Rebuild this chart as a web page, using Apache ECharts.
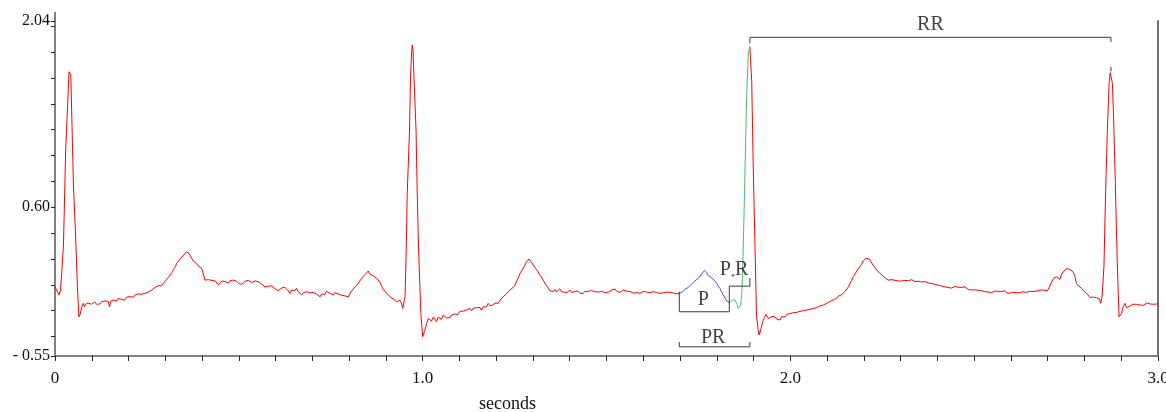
<!DOCTYPE html>
<html>
<head>
<meta charset="utf-8">
<title>ECG lead trace</title>
<script src="https://cdn.jsdelivr.net/npm/echarts@6/dist/echarts.min.js"></script>
<style>
  html, body { margin: 0; padding: 0; background: #fff; }
  #chart { width: 1166px; height: 412px; }
</style>
</head>
<body>
<div id="chart"></div>
<script>
// ECG samples: [time in seconds, amplitude in mV]
const ecgSamples = [
  [0.000,-0.015],[0.005,-0.030],[0.011,-0.079],[0.015,-0.040],[0.018,0.076],[0.023,0.308],[0.029,1.043],[0.035,1.429],
  [0.038,1.648],[0.041,1.660],[0.043,1.623],[0.050,0.787],[0.057,0.308],[0.061,-0.017],[0.065,-0.247],[0.068,-0.230],
  [0.071,-0.195],[0.074,-0.160],[0.077,-0.143],[0.080,-0.170],[0.083,-0.150],[0.086,-0.162],[0.090,-0.140],[0.095,-0.133],
  [0.099,-0.150],[0.104,-0.143],[0.108,-0.132],[0.113,-0.150],[0.118,-0.138],[0.122,-0.148],[0.127,-0.130],[0.132,-0.140],
  [0.136,-0.125],[0.141,-0.131],[0.145,-0.128],[0.148,-0.169],[0.152,-0.125],[0.156,-0.130],[0.159,-0.118],[0.164,-0.115],
  [0.168,-0.125],[0.172,-0.105],[0.177,-0.100],[0.181,-0.112],[0.186,-0.098],[0.190,-0.118],[0.195,-0.095],[0.199,-0.100],
  [0.204,-0.092],[0.209,-0.085],[0.213,-0.095],[0.218,-0.078],[0.222,-0.079],[0.227,-0.070],[0.231,-0.085],[0.236,-0.072],
  [0.240,-0.079],[0.245,-0.065],[0.249,-0.070],[0.254,-0.055],[0.258,-0.053],[0.263,-0.040],[0.268,-0.035],[0.272,-0.020],
  [0.277,-0.015],[0.281,-0.005],[0.286,0.002],[0.290,-0.008],[0.295,0.012],[0.300,0.030],[0.304,0.040],[0.309,0.060],
  [0.313,0.076],[0.318,0.095],[0.322,0.118],[0.327,0.140],[0.331,0.166],[0.336,0.175],[0.340,0.198],[0.343,0.185],
  [0.345,0.205],[0.350,0.230],[0.354,0.225],[0.357,0.255],[0.360,0.269],[0.364,0.245],[0.368,0.230],[0.372,0.205],
  [0.376,0.185],[0.380,0.170],[0.385,0.166],[0.389,0.148],[0.394,0.140],[0.399,0.128],[0.403,0.090],[0.408,0.037],
  [0.412,0.045],[0.417,0.040],[0.422,0.055],[0.427,0.035],[0.431,0.050],[0.436,0.030],[0.440,0.022],[0.445,0.000],
  [0.449,0.012],[0.454,0.030],[0.458,0.020],[0.463,0.025],[0.467,0.024],[0.472,0.015],[0.476,0.032],[0.481,0.018],
  [0.485,0.037],[0.490,0.025],[0.494,0.028],[0.499,0.010],[0.503,0.020],[0.508,0.005],[0.512,0.012],[0.517,0.028],
  [0.521,0.015],[0.526,0.035],[0.530,0.029],[0.535,0.018],[0.539,0.010],[0.544,0.030],[0.549,0.015],[0.553,0.024],
  [0.558,0.024],[0.562,0.005],[0.567,0.012],[0.571,-0.015],[0.576,-0.027],[0.580,-0.010],[0.585,-0.020],[0.589,-0.008],
  [0.594,-0.015],[0.598,-0.030],[0.603,-0.022],[0.607,-0.045],[0.612,-0.040],[0.616,-0.025],[0.621,-0.035],[0.625,-0.018],
  [0.630,-0.027],[0.634,-0.045],[0.639,-0.066],[0.643,-0.040],[0.648,-0.030],[0.652,-0.045],[0.657,-0.027],[0.661,-0.050],
  [0.666,-0.060],[0.671,-0.079],[0.675,-0.060],[0.680,-0.045],[0.685,-0.053],[0.689,-0.040],[0.693,-0.062],[0.698,-0.058],
  [0.702,-0.058],[0.707,-0.045],[0.711,-0.070],[0.716,-0.080],[0.721,-0.092],[0.725,-0.070],[0.730,-0.060],[0.734,-0.075],
  [0.738,-0.050],[0.743,-0.040],[0.748,-0.065],[0.752,-0.072],[0.757,-0.079],[0.761,-0.060],[0.766,-0.058],[0.770,-0.070],
  [0.775,-0.062],[0.779,-0.080],[0.784,-0.073],[0.788,-0.085],[0.793,-0.080],[0.798,-0.092],[0.802,-0.070],[0.806,-0.050],
  [0.811,-0.032],[0.815,-0.020],[0.820,-0.005],[0.825,0.012],[0.829,0.030],[0.834,0.045],[0.838,0.063],[0.843,0.080],
  [0.847,0.070],[0.852,0.107],[0.856,0.085],[0.861,0.095],[0.866,0.070],[0.870,0.080],[0.875,0.050],[0.879,0.055],
  [0.884,0.020],[0.889,-0.015],[0.893,-0.035],[0.898,-0.050],[0.902,-0.066],[0.907,-0.075],[0.911,-0.090],[0.916,-0.104],
  [0.920,-0.110],[0.925,-0.125],[0.929,-0.131],[0.934,-0.120],[0.938,-0.118],[0.942,-0.140],[0.946,-0.182],[0.950,-0.120],
  [0.952,-0.092],[0.955,0.217],[0.958,0.708],[0.964,1.172],[0.967,1.609],[0.970,1.800],[0.972,1.855],[0.974,1.800],
  [0.976,1.636],[0.982,1.195],[0.985,0.733],[0.989,0.269],[0.995,-0.220],[1.000,-0.401],[1.005,-0.360],[1.011,-0.298],
  [1.015,-0.260],[1.020,-0.247],[1.024,-0.280],[1.029,-0.247],[1.033,-0.234],[1.038,-0.285],[1.042,-0.250],[1.047,-0.240],
  [1.051,-0.265],[1.056,-0.234],[1.060,-0.245],[1.065,-0.255],[1.069,-0.240],[1.074,-0.254],[1.078,-0.235],[1.083,-0.245],
  [1.087,-0.225],[1.092,-0.220],[1.096,-0.230],[1.101,-0.205],[1.105,-0.220],[1.110,-0.203],[1.114,-0.215],[1.119,-0.195],
  [1.124,-0.205],[1.129,-0.182],[1.133,-0.200],[1.138,-0.180],[1.142,-0.195],[1.147,-0.177],[1.151,-0.185],[1.156,-0.175],
  [1.160,-0.195],[1.165,-0.170],[1.169,-0.160],[1.174,-0.170],[1.178,-0.143],[1.183,-0.160],[1.187,-0.145],[1.192,-0.156],
  [1.196,-0.140],[1.201,-0.150],[1.206,-0.143],[1.210,-0.120],[1.215,-0.110],[1.219,-0.092],[1.224,-0.100],[1.228,-0.070],
  [1.233,-0.065],[1.237,-0.040],[1.242,-0.030],[1.246,-0.020],[1.251,-0.002],[1.256,0.030],[1.260,0.055],[1.265,0.089],
  [1.269,0.100],[1.274,0.130],[1.278,0.153],[1.283,0.180],[1.286,0.190],[1.289,0.200],[1.293,0.190],[1.297,0.170],
  [1.301,0.153],[1.305,0.135],[1.310,0.120],[1.314,0.101],[1.319,0.075],[1.323,0.060],[1.328,0.037],[1.333,0.010],
  [1.337,-0.005],[1.342,-0.027],[1.346,-0.045],[1.351,-0.040],[1.355,-0.053],[1.360,-0.035],[1.364,-0.055],[1.369,-0.046],
  [1.373,-0.030],[1.378,-0.052],[1.382,-0.040],[1.387,-0.058],[1.391,-0.045],[1.396,-0.056],[1.400,-0.040],[1.405,-0.060],
  [1.410,-0.058],[1.414,-0.050],[1.419,-0.062],[1.423,-0.048],[1.428,-0.066],[1.432,-0.055],[1.437,-0.066],[1.441,-0.050],
  [1.446,-0.040],[1.450,-0.050],[1.455,-0.060],[1.459,-0.045],[1.464,-0.040],[1.468,-0.052],[1.473,-0.056],[1.478,-0.056],
  [1.482,-0.042],[1.487,-0.050],[1.491,-0.048],[1.496,-0.060],[1.500,-0.045],[1.505,-0.056],[1.510,-0.050],[1.514,-0.040],
  [1.519,-0.032],[1.523,-0.032],[1.528,-0.050],[1.532,-0.045],[1.537,-0.058],[1.541,-0.050],[1.546,-0.040],[1.551,-0.055],
  [1.555,-0.048],[1.560,-0.060],[1.564,-0.052],[1.569,-0.058],[1.573,-0.063],[1.578,-0.050],[1.582,-0.060],[1.587,-0.055],
  [1.591,-0.066],[1.596,-0.058],[1.600,-0.050],[1.605,-0.062],[1.609,-0.056],[1.614,-0.045],[1.618,-0.060],[1.623,-0.050],
  [1.627,-0.053],[1.632,-0.066],[1.636,-0.058],[1.641,-0.050],[1.645,-0.066],[1.650,-0.055],[1.654,-0.062],[1.659,-0.048],
  [1.664,-0.056],[1.668,-0.065],[1.673,-0.058],[1.677,-0.068],[1.682,-0.063],[1.686,-0.055],[1.691,-0.070],[1.695,-0.060],
  [1.698,-0.066],[1.703,-0.060],[1.708,-0.052],[1.713,-0.035],[1.718,-0.040],[1.722,-0.020],[1.727,-0.015],[1.731,0.005],
  [1.736,0.012],[1.740,0.030],[1.745,0.025],[1.750,0.050],[1.754,0.060],[1.759,0.084],[1.763,0.095],[1.766,0.110],
  [1.768,0.101],[1.772,0.095],[1.775,0.076],[1.779,0.085],[1.783,0.060],[1.786,0.058],[1.790,0.045],[1.795,0.030],
  [1.800,0.012],[1.804,-0.010],[1.809,-0.030],[1.813,-0.053],[1.817,-0.075],[1.821,-0.095],[1.825,-0.118],[1.829,-0.125],
  [1.834,-0.138],[1.838,-0.125],[1.842,-0.120],[1.845,-0.125],[1.849,-0.115],[1.852,-0.118],[1.855,-0.150],[1.858,-0.182],
  [1.862,-0.175],[1.865,-0.156],[1.868,-0.060],[1.870,0.076],[1.874,0.540],[1.878,1.056],[1.881,1.442],[1.886,1.803],
  [1.890,1.841],[1.895,1.571],[1.899,0.927],[1.904,0.282],[1.908,-0.234],[1.912,-0.340],[1.915,-0.388],[1.920,-0.340],
  [1.925,-0.285],[1.930,-0.250],[1.934,-0.228],[1.940,-0.260],[1.945,-0.272],[1.950,-0.245],[1.954,-0.250],[1.958,-0.247],
  [1.963,-0.265],[1.967,-0.250],[1.972,-0.272],[1.976,-0.245],[1.981,-0.240],[1.985,-0.250],[1.990,-0.228],[1.994,-0.240],
  [1.999,-0.222],[2.003,-0.232],[2.008,-0.215],[2.012,-0.225],[2.017,-0.213],[2.021,-0.220],[2.026,-0.205],[2.030,-0.215],
  [2.035,-0.200],[2.040,-0.210],[2.044,-0.195],[2.049,-0.205],[2.053,-0.190],[2.058,-0.198],[2.062,-0.182],[2.067,-0.190],
  [2.071,-0.177],[2.076,-0.180],[2.080,-0.165],[2.085,-0.172],[2.090,-0.155],[2.094,-0.160],[2.099,-0.143],[2.103,-0.145],
  [2.108,-0.128],[2.112,-0.125],[2.117,-0.115],[2.121,-0.110],[2.126,-0.104],[2.130,-0.088],[2.135,-0.085],[2.140,-0.075],
  [2.144,-0.066],[2.149,-0.050],[2.153,-0.035],[2.158,-0.015],[2.162,0.010],[2.167,0.035],[2.171,0.063],[2.176,0.085],
  [2.180,0.100],[2.185,0.125],[2.189,0.140],[2.194,0.160],[2.198,0.185],[2.202,0.195],[2.206,0.205],[2.210,0.198],
  [2.215,0.200],[2.219,0.180],[2.225,0.153],[2.230,0.135],[2.234,0.125],[2.239,0.101],[2.243,0.090],[2.248,0.080],
  [2.253,0.070],[2.257,0.055],[2.262,0.045],[2.266,0.037],[2.271,0.030],[2.276,0.040],[2.280,0.028],[2.285,0.035],
  [2.289,0.020],[2.294,0.030],[2.298,0.024],[2.303,0.030],[2.307,0.018],[2.312,0.035],[2.316,0.025],[2.321,0.032],
  [2.325,0.028],[2.330,0.040],[2.334,0.037],[2.339,0.025],[2.343,0.035],[2.348,0.028],[2.352,0.038],[2.357,0.022],
  [2.362,0.030],[2.366,0.025],[2.371,0.029],[2.375,0.015],[2.380,0.022],[2.384,0.010],[2.389,0.018],[2.393,0.005],
  [2.398,0.012],[2.402,-0.002],[2.407,0.004],[2.411,-0.008],[2.416,-0.002],[2.420,-0.015],[2.425,-0.008],[2.429,-0.020],
  [2.434,-0.012],[2.438,-0.025],[2.443,-0.022],[2.447,-0.012],[2.452,-0.025],[2.456,-0.018],[2.461,-0.028],[2.466,-0.020],
  [2.470,-0.030],[2.475,-0.015],[2.480,-0.022],[2.484,-0.035],[2.489,-0.025],[2.493,-0.040],[2.498,-0.028],[2.502,-0.038],
  [2.507,-0.030],[2.511,-0.042],[2.516,-0.032],[2.520,-0.045],[2.525,-0.040],[2.529,-0.052],[2.534,-0.040],[2.538,-0.055],
  [2.543,-0.045],[2.547,-0.060],[2.552,-0.058],[2.556,-0.048],[2.561,-0.060],[2.565,-0.050],[2.570,-0.065],[2.574,-0.052],
  [2.579,-0.058],[2.583,-0.045],[2.588,-0.062],[2.592,-0.050],[2.597,-0.065],[2.601,-0.055],[2.606,-0.058],[2.610,-0.045],
  [2.615,-0.060],[2.619,-0.050],[2.624,-0.062],[2.628,-0.048],[2.633,-0.053],[2.637,-0.042],[2.642,-0.058],[2.646,-0.045],
  [2.651,-0.050],[2.656,-0.040],[2.660,-0.052],[2.665,-0.042],[2.669,-0.048],[2.674,-0.038],[2.679,-0.040],[2.683,-0.048],
  [2.688,-0.040],[2.693,-0.050],[2.699,-0.046],[2.704,-0.020],[2.711,0.024],[2.716,0.050],[2.720,0.040],[2.724,0.063],
  [2.729,0.058],[2.733,0.043],[2.737,0.075],[2.742,0.101],[2.747,0.115],[2.751,0.125],[2.756,0.140],[2.760,0.120],
  [2.765,0.118],[2.769,0.101],[2.774,0.065],[2.778,0.012],[2.783,-0.005],[2.787,-0.020],[2.792,-0.027],[2.797,-0.045],
  [2.801,-0.058],[2.806,-0.066],[2.810,-0.080],[2.815,-0.097],[2.819,-0.090],[2.824,-0.095],[2.828,-0.088],[2.833,-0.098],
  [2.837,-0.092],[2.841,-0.110],[2.844,-0.143],[2.848,-0.087],[2.853,0.140],[2.857,0.656],[2.862,1.172],[2.867,1.558],
  [2.870,1.640],[2.872,1.646],[2.874,1.630],[2.876,1.558],[2.880,1.223],[2.884,0.785],[2.889,0.192],[2.894,-0.247],
  [2.897,-0.240],[2.901,-0.220],[2.905,-0.170],[2.910,-0.143],[2.914,-0.175],[2.919,-0.182],[2.923,-0.165],[2.928,-0.169],
  [2.932,-0.150],[2.937,-0.165],[2.941,-0.150],[2.946,-0.160],[2.951,-0.156],[2.955,-0.145],[2.960,-0.158],[2.964,-0.148],
  [2.969,-0.140],[2.974,-0.155],[2.979,-0.148],[2.983,-0.138],[2.988,-0.150],[2.992,-0.140],[2.996,-0.148],[3.000,-0.143]
];

// Fiducial timings (s) of the measured beat
const pWave = [1.698, 1.834];        // P onset, P offset
const rPeaks = [1.890, 2.872];       // R peak of measured beat, next R peak

// Axis ticks and labels
const xTickValues = [0,0.1,0.2,0.3,0.4,0.5,0.6,0.7,0.8,0.9,1.0,1.1,1.2,1.3,1.4,1.5,1.6,1.7,1.8,1.9,
                     2.0,2.1,2.2,2.3,2.4,2.5,2.6,2.7,2.8,2.9,3.0];
const xLabelValues = [0, 1, 2, 3];
const yTickValues = [-0.55,-0.4,-0.2,0,0.2,0.4,0.6,0.8,1.0,1.2,1.4,1.6,1.8,2.0,2.04];
const yLabelValues = [-0.55, 0.60, 2.04];

const SERIF = '"Liberation Serif", "Times New Roman", serif';
const BRACKET = '#3a3a3a';

const pOn = pWave[0], pOff = pWave[1], r1 = rPeaks[0], r2 = rPeaks[1];

// Split the trace: P wave in blue, P-offset to R peak in green, the rest in red
const traceBefore = ecgSamples.filter(p => p[0] <= pOn);
const traceP = ecgSamples.filter(p => p[0] >= pOn && p[0] <= pOff);
const tracePR = ecgSamples.filter(p => p[0] >= pOff && p[0] <= r1);
const traceAfter = ecgSamples.filter(p => p[0] >= r1);

function traceSeries(data, color) {
  return {
    type: 'line', data: data, showSymbol: false, symbol: 'none',
    lineStyle: { color: color, width: 1 }, silent: true, z: 3
  };
}
function bracketSeries(points) {
  return {
    type: 'line', data: points, showSymbol: false, symbol: 'none',
    lineStyle: { color: BRACKET, width: 1 }, silent: true, z: 4
  };
}

const chart = echarts.init(document.getElementById('chart'), null, { renderer: 'canvas' });

chart.setOption({
  animation: false,
  backgroundColor: '#ffffff',
  grid: { left: 55, right: 8, top: 21, bottom: 56, containLabel: false, outerBoundsMode: 'none' },
  xAxis: {
    type: 'value', min: 0, max: 3,
    axisLine: { show: true, onZero: false, lineStyle: { color: '#808080', width: 2 } },
    axisTick: { show: true, length: 5, customValues: xTickValues, lineStyle: { color: '#222', width: 1 } },
    axisLabel: {
      show: true, customValues: xLabelValues, margin: 14, hideOverlap: false,
      fontFamily: SERIF, fontSize: 17, color: '#111',
      formatter: v => (v === 0 ? '0' : v.toFixed(1))
    },
    splitLine: { show: false }
  },
  yAxis: [{
    type: 'value', min: -0.55, max: 2.04, position: 'left',
    axisLine: { show: true, onZero: false, lineStyle: { color: '#808080', width: 2 } },
    axisTick: { show: true, length: 4, customValues: yTickValues, lineStyle: { color: '#222', width: 1 } },
    axisLabel: {
      show: true, customValues: yLabelValues, margin: 5,
      fontFamily: SERIF, fontSize: 16, color: '#111',
      formatter: v => (v < 0 ? '- ' + Math.abs(v).toFixed(2) : v.toFixed(2))
    },
    splitLine: { show: false }
  }, {
    type: 'value', min: -0.55, max: 2.04, position: 'right',
    axisLine: { show: true, onZero: false, lineStyle: { color: '#707070', width: 2 } },
    axisTick: { show: false }, axisLabel: { show: false }, splitLine: { show: false }
  }],
  graphic: [
    { type: 'line', shape: { x1: 55, y1: 12, x2: 55, y2: 21 }, style: { stroke: '#808080', lineWidth: 2 } },
    { type: 'text', left: 479, top: 395,
      style: { text: 'seconds', font: '18px ' + SERIF, fill: '#111' } }
  ],
  series: [
    traceSeries(traceBefore, '#ff0000'),
    traceSeries(traceAfter, '#ff0000'),
    traceSeries(traceP, '#4d4dd8'),
    traceSeries(tracePR, '#4cbb6e'),
    // P duration bracket joined to the P-offset -> R bracket
    bracketSeries([[pOn, -0.053], [pOn, -0.208], [pOff, -0.208], [pOff, -0.010], [r1, -0.010], [r1, 0.051]]),
    // PR interval
    bracketSeries([[pOn, -0.442], [pOn, -0.479], [r1, -0.479], [r1, -0.442]]),
    // RR interval
    bracketSeries([[r1, 1.868], [r1, 1.914], [r2, 1.914], [r2, 1.878]]),
    bracketSeries([[r2, 1.685], [r2, 1.650]]),
    {
      type: 'scatter', symbolSize: 0, silent: true, z: 5,
      label: {
        show: true, position: 'inside', formatter: p => p.name,
        fontFamily: SERIF, fontSize: 20, color: '#111',
        rich: { d: { fontSize: 7, color: '#666', verticalAlign: 'bottom', padding: [0, 0, 1, 0] } }
      },
      data: [
        { name: 'P', value: [(pOn + pOff) / 2 - 0.003, -0.112] },
        { name: 'PR', value: [(pOn + r1) / 2 - 0.004, -0.406] },
        { name: 'P{d|●}R', value: [(pOff + r1) / 2 - 0.015, 0.114] },
        { name: 'RR', value: [(r1 + r2) / 2, 2.009] }
      ]
    }
  ]
});
</script>
</body>
</html>
